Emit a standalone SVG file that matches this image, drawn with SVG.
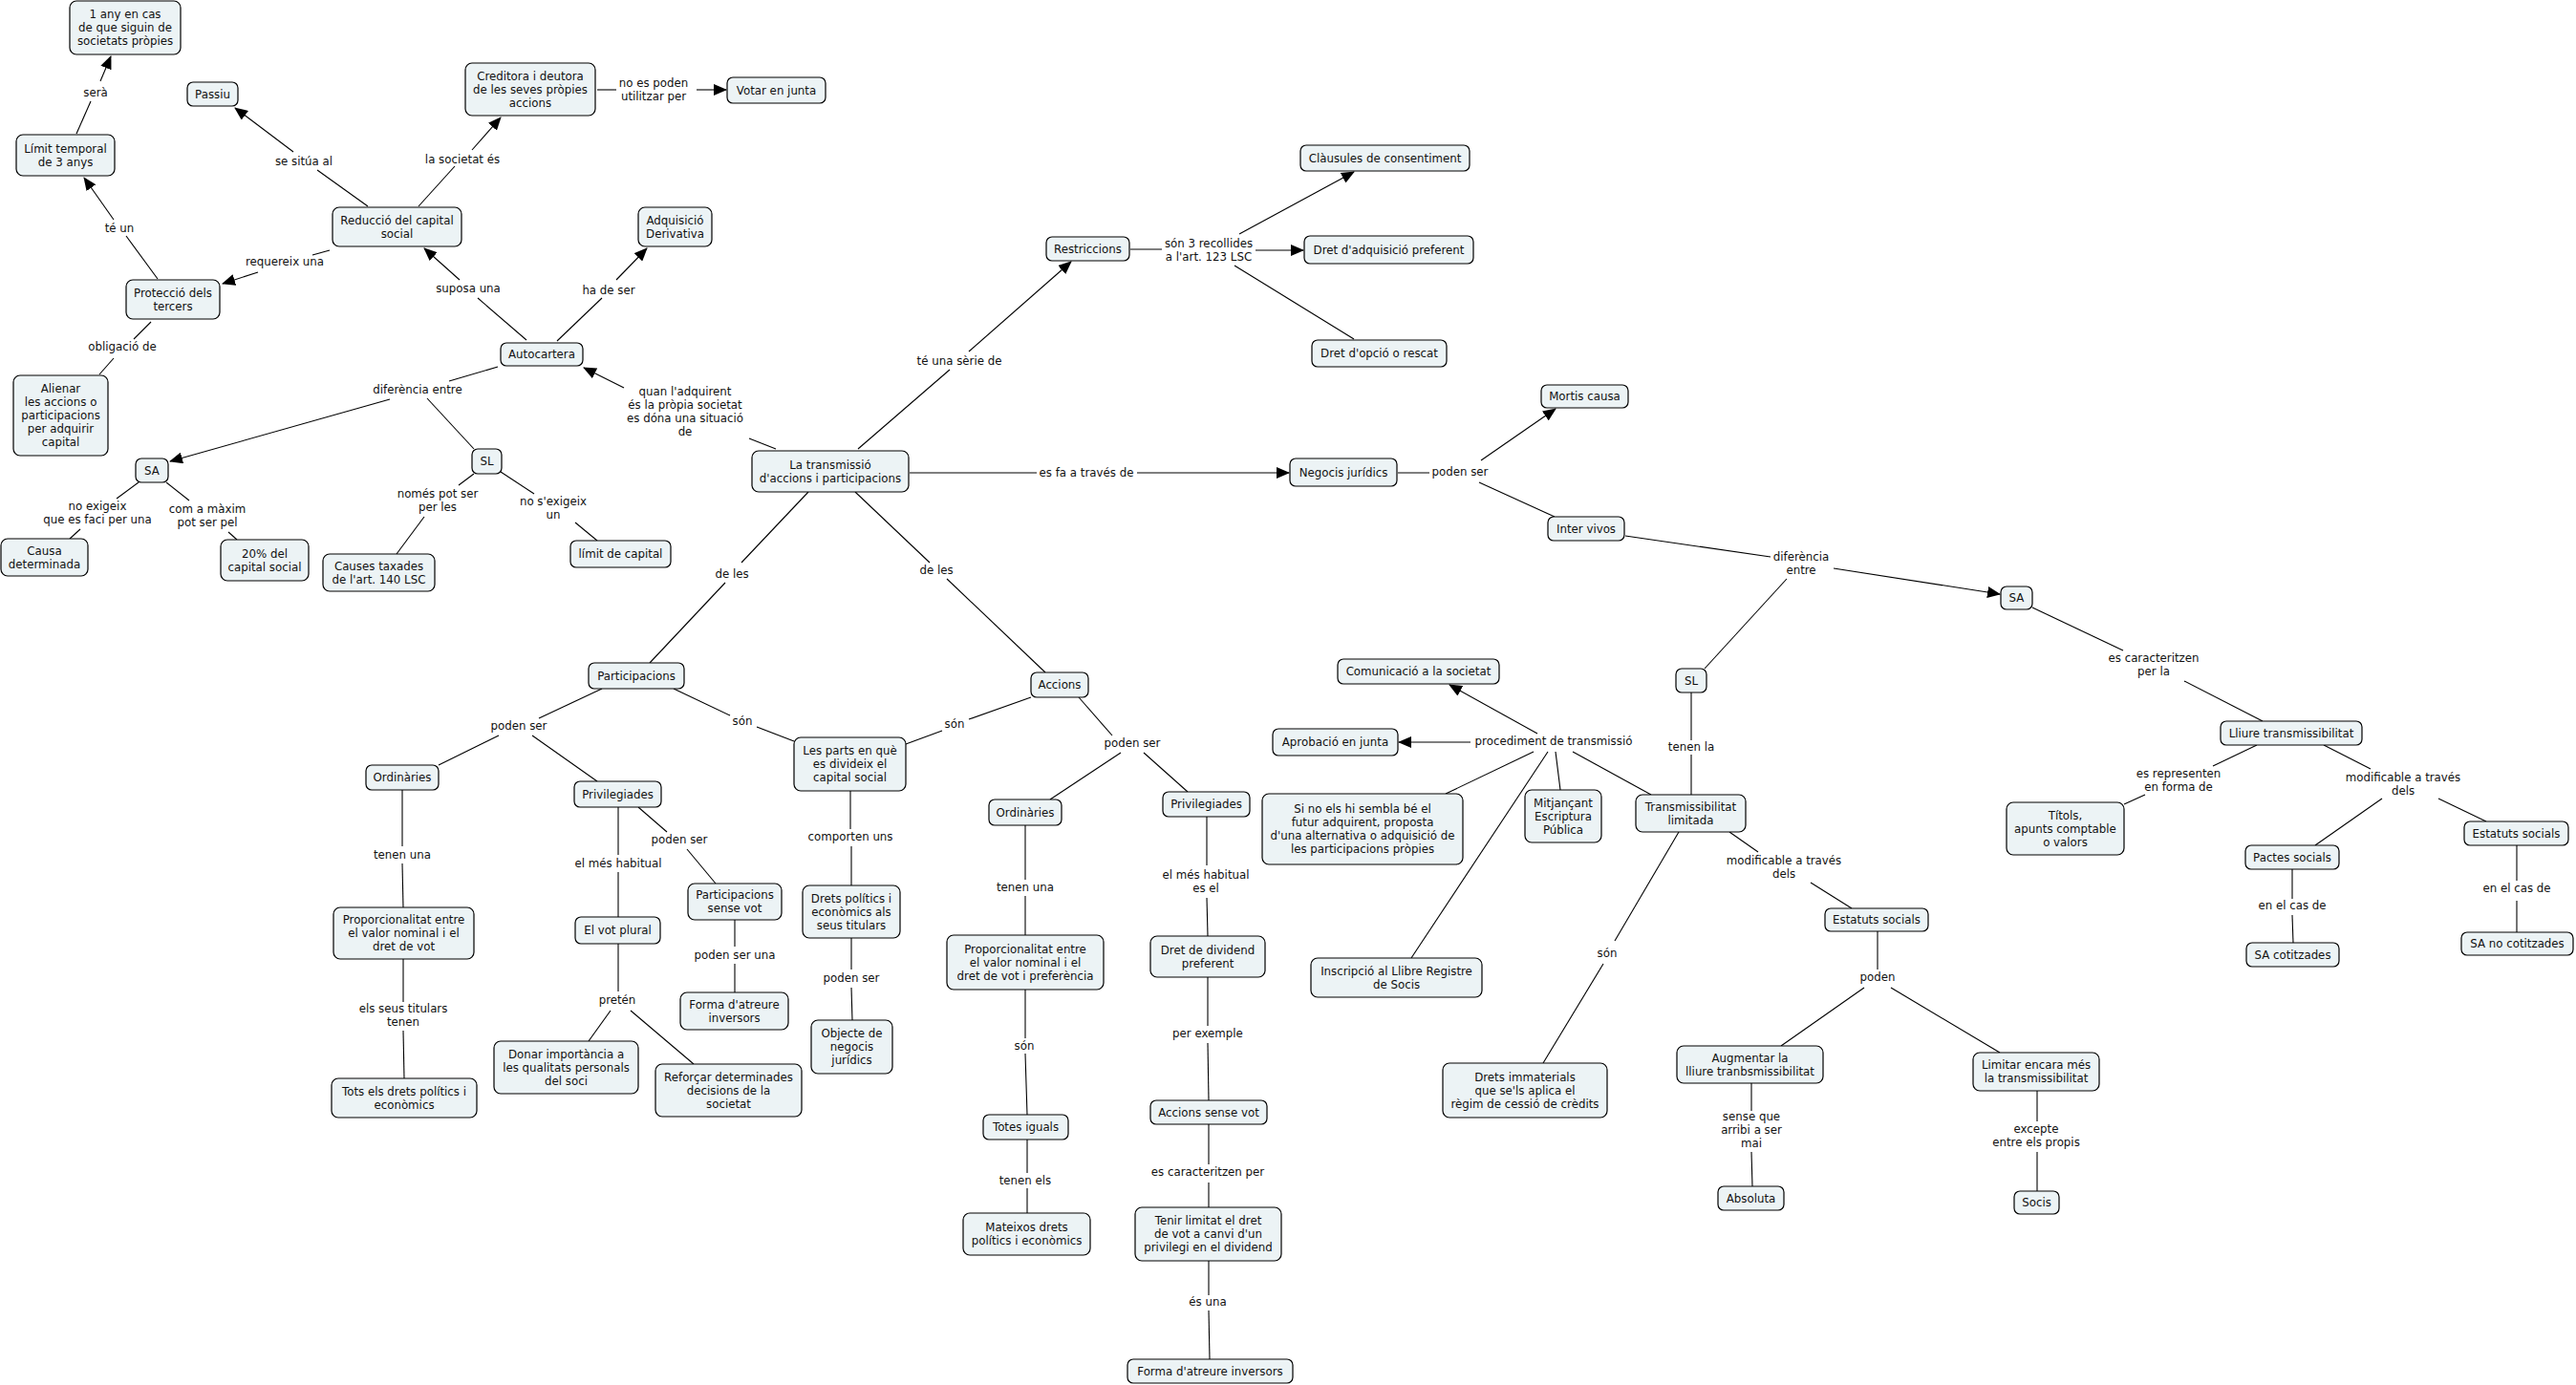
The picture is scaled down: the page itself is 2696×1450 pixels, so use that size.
<svg xmlns="http://www.w3.org/2000/svg" width="2696" height="1450" viewBox="0 0 2696 1450">
<style>
.n rect{fill:#ecf3f5;stroke:#000;stroke-width:1.2}
text{font-family:"DejaVu Sans","Liberation Sans",sans-serif;font-size:11.8px;fill:#111;text-anchor:middle}
.c line{stroke:#000;stroke-width:1.1}
.c line.a{marker-end:url(#ah)}
</style>
<defs>
<marker id="ah" viewBox="0 0 14 12" refX="13" refY="6" markerWidth="14" markerHeight="12" markerUnits="userSpaceOnUse" orient="auto"><path d="M0,0 L14,6 L0,12 z" fill="#000"/></marker>
</defs>
<rect width="2696" height="1450" fill="#fff"/>
<g id="connectors" class="c">
<line x1="80" y1="140" x2="95" y2="106"/><line class="a" x1="105" y1="85" x2="116" y2="59"/><text x="100" y="101">serà</text>
<line x1="165" y1="292" x2="132" y2="247"/><line class="a" x1="119" y1="230" x2="88" y2="186"/><text x="125" y="243">té un</text>
<line x1="345" y1="262" x2="327" y2="267"/><line class="a" x1="270" y1="285" x2="233" y2="297"/><text x="298" y="278">requereix una</text>
<line x1="385" y1="216" x2="332" y2="178"/><line class="a" x1="307" y1="159" x2="246" y2="113"/><text x="318" y="173">se sitúa al</text>
<line x1="438" y1="216" x2="476" y2="174"/><line class="a" x1="494" y1="157" x2="524" y2="123"/><text x="484" y="171">la societat és</text>
<line x1="625" y1="94" x2="645" y2="94"/><line class="a" x1="729" y1="94" x2="760" y2="94"/><text x="684" y="90.5"><tspan x="684">no es poden</tspan><tspan x="684" dy="14">utilitzar per</tspan></text>
<line x1="551" y1="356" x2="500" y2="312"/><line class="a" x1="481" y1="293" x2="444" y2="260"/><text x="490" y="306">suposa una</text>
<line x1="583" y1="357" x2="630" y2="312"/><line class="a" x1="645" y1="293" x2="677" y2="260"/><text x="637" y="308">ha de ser</text>
<line x1="158" y1="337" x2="140" y2="355"/><line x1="119" y1="375" x2="104" y2="392"/><text x="128" y="367">obligació de</text>
<line x1="521" y1="384" x2="470" y2="399"/><line class="a" x1="408" y1="418" x2="178" y2="483"/><line x1="447" y1="417" x2="496" y2="470"/><text x="437" y="412">diferència entre</text>
<line x1="812" y1="470" x2="784" y2="459"/><line class="a" x1="653" y1="406" x2="611" y2="385"/><text x="717" y="414"><tspan x="717">quan l'adquirent</tspan><tspan x="717" dy="14">és la pròpia societat</tspan><tspan x="717" dy="14">es dóna una situació</tspan><tspan x="717" dy="14">de</tspan></text>
<line x1="898" y1="470" x2="994" y2="387"/><line class="a" x1="1014" y1="368" x2="1121" y2="274"/><text x="1004" y="382">té una sèrie de</text>
<line x1="1183" y1="261" x2="1216" y2="261"/><line class="a" x1="1297" y1="245" x2="1417" y2="180"/><line class="a" x1="1314" y1="262" x2="1364" y2="262"/><line x1="1292" y1="278" x2="1417" y2="355"/><text x="1265" y="259"><tspan x="1265">són 3 recollides</tspan><tspan x="1265" dy="14">a l'art. 123 LSC</tspan></text>
<line x1="952" y1="495" x2="1085" y2="495"/><line class="a" x1="1190" y1="495" x2="1349" y2="495"/><text x="1137" y="499">es fa a través de</text>
<line x1="1463" y1="495" x2="1496" y2="495"/><line class="a" x1="1550" y1="482" x2="1628" y2="428"/><line x1="1548" y1="505" x2="1627" y2="541"/><text x="1528" y="498">poden ser</text>
<line x1="1701" y1="561" x2="1853" y2="583"/><line class="a" x1="1919" y1="595" x2="2093" y2="622"/><line x1="1870" y1="606" x2="1784" y2="700"/><text x="1885" y="587"><tspan x="1885">diferència</tspan><tspan x="1885" dy="14">entre</tspan></text>
<line x1="1770" y1="725" x2="1770" y2="775"/><line x1="1770" y1="790" x2="1770" y2="832"/><text x="1770" y="786">tenen la</text>
<line class="a" x1="1539" y1="777" x2="1464" y2="777"/><line class="a" x1="1609" y1="768" x2="1517" y2="717"/><line x1="1605" y1="787" x2="1513" y2="831"/><line x1="1620" y1="787" x2="1477" y2="1003"/><line x1="1628" y1="787" x2="1633" y2="827"/><line x1="1646" y1="787" x2="1728" y2="832"/><text x="1626" y="780">procediment de transmissió</text>
<line x1="1810" y1="871" x2="1840" y2="892"/><line x1="1895" y1="924" x2="1938" y2="951"/><text x="1867" y="905"><tspan x="1867">modificable a través</tspan><tspan x="1867" dy="14">dels</tspan></text>
<line x1="1757" y1="871" x2="1690" y2="985"/><line x1="1678" y1="1009" x2="1615" y2="1113"/><text x="1682" y="1002">són</text>
<line x1="1965" y1="975" x2="1965" y2="1015"/><line x1="1951" y1="1034" x2="1864" y2="1095"/><line x1="1979" y1="1034" x2="2093" y2="1102"/><text x="1965" y="1027">poden</text>
<line x1="1833" y1="1134" x2="1833" y2="1163"/><line x1="1833" y1="1206" x2="1834" y2="1242"/><text x="1833" y="1173"><tspan x="1833">sense que</tspan><tspan x="1833" dy="14">arribi a ser</tspan><tspan x="1833" dy="14">mai</tspan></text>
<line x1="2132" y1="1142" x2="2132" y2="1174"/><line x1="2132" y1="1206" x2="2132" y2="1247"/><text x="2131" y="1186"><tspan x="2131">excepte</tspan><tspan x="2131" dy="14">entre els propis</tspan></text>
<line x1="2127" y1="636" x2="2222" y2="681"/><line x1="2286" y1="713" x2="2368" y2="755"/><text x="2254" y="693"><tspan x="2254">es caracteritzen</tspan><tspan x="2254" dy="14">per la</tspan></text>
<line x1="2362" y1="780" x2="2316" y2="802"/><line x1="2245" y1="832" x2="2223" y2="842"/><text x="2280" y="814"><tspan x="2280">es representen</tspan><tspan x="2280" dy="14">en forma de</tspan></text>
<line x1="2432" y1="780" x2="2481" y2="805"/><line x1="2493" y1="836" x2="2423" y2="885"/><line x1="2552" y1="836" x2="2602" y2="860"/><text x="2515" y="818"><tspan x="2515">modificable a través</tspan><tspan x="2515" dy="14">dels</tspan></text>
<line x1="2399" y1="910" x2="2399" y2="941"/><line x1="2399" y1="958" x2="2400" y2="987"/><text x="2399" y="952">en el cas de</text>
<line x1="2634" y1="885" x2="2634" y2="922"/><line x1="2634" y1="943" x2="2634" y2="976"/><text x="2634" y="934">en el cas de</text>
<line x1="846" y1="515" x2="776" y2="589"/><line x1="759" y1="610" x2="680" y2="694"/><text x="766" y="605">de les</text>
<line x1="895" y1="515" x2="973" y2="589"/><line x1="991" y1="606" x2="1094" y2="704"/><text x="980" y="601">de les</text>
<line x1="705" y1="721" x2="764" y2="749"/><line x1="792" y1="761" x2="831" y2="776"/><text x="777" y="759">són</text>
<line x1="1079" y1="730" x2="1014" y2="753"/><line x1="986" y1="765" x2="948" y2="779"/><text x="999" y="762">són</text>
<line x1="890" y1="828" x2="890" y2="868"/><line x1="891" y1="886" x2="891" y2="927"/><text x="890" y="880">comporten uns</text>
<line x1="1129" y1="730" x2="1164" y2="770"/><line x1="1173" y1="788" x2="1099" y2="837"/><line x1="1197" y1="788" x2="1243" y2="829"/><text x="1185" y="782">poden ser</text>
<line x1="1073" y1="864" x2="1073" y2="921"/><line x1="1073" y1="938" x2="1073" y2="979"/><text x="1073" y="933">tenen una</text>
<line x1="1263" y1="855" x2="1263" y2="906"/><line x1="1263" y1="940" x2="1264" y2="980"/><text x="1262" y="920"><tspan x="1262">el més habitual</tspan><tspan x="1262" dy="14">es el</tspan></text>
<line x1="630" y1="721" x2="564" y2="752"/><line x1="522" y1="770" x2="459" y2="801"/><line x1="557" y1="770" x2="625" y2="818"/><text x="543" y="764">poden ser</text>
<line x1="421" y1="827" x2="421" y2="886"/><line x1="421" y1="904" x2="422" y2="950"/><text x="421" y="899">tenen una</text>
<line x1="647" y1="845" x2="647" y2="895"/><line x1="647" y1="913" x2="647" y2="960"/><text x="647" y="908">el més habitual</text>
<line x1="668" y1="845" x2="698" y2="871"/><line x1="719" y1="889" x2="749" y2="925"/><text x="711" y="883">poden ser</text>
<line x1="422" y1="1004" x2="422" y2="1049"/><line x1="422" y1="1079" x2="423" y2="1129"/><text x="422" y="1060"><tspan x="422">els seus titulars</tspan><tspan x="422" dy="14">tenen</tspan></text>
<line x1="647" y1="988" x2="647" y2="1038"/><line x1="639" y1="1058" x2="616" y2="1090"/><line x1="660" y1="1058" x2="726" y2="1114"/><text x="646" y="1051">pretén</text>
<line x1="769" y1="963" x2="769" y2="991"/><line x1="769" y1="1009" x2="769" y2="1039"/><text x="769" y="1004">poden ser una</text>
<line x1="891" y1="982" x2="891" y2="1015"/><line x1="891" y1="1034" x2="892" y2="1068"/><text x="891" y="1028">poden ser</text>
<line x1="1073" y1="1036" x2="1073" y2="1087"/><line x1="1073" y1="1103" x2="1075" y2="1167"/><text x="1072" y="1099">són</text>
<line x1="1075" y1="1193" x2="1075" y2="1228"/><line x1="1075" y1="1244" x2="1075" y2="1270"/><text x="1073" y="1240">tenen els</text>
<line x1="1264" y1="1023" x2="1264" y2="1074"/><line x1="1264" y1="1092" x2="1265" y2="1152"/><text x="1264" y="1086">per exemple</text>
<line x1="1265" y1="1177" x2="1265" y2="1219"/><line x1="1265" y1="1238" x2="1265" y2="1264"/><text x="1264" y="1231">es caracteritzen per</text>
<line x1="1265" y1="1320" x2="1265" y2="1356"/><line x1="1265" y1="1372" x2="1266" y2="1423"/><text x="1264" y="1367">és una</text>
<line x1="145" y1="505" x2="122" y2="522"/><line x1="84" y1="554" x2="73" y2="564"/><text x="102" y="534"><tspan x="102">no exigeix</tspan><tspan x="102" dy="14">que es faci per una</tspan></text>
<line x1="174" y1="505" x2="198" y2="524"/><line x1="239" y1="557" x2="248" y2="565"/><text x="217" y="537"><tspan x="217">com a màxim</tspan><tspan x="217" dy="14">pot ser pel</tspan></text>
<line x1="496" y1="496" x2="480" y2="508"/><line x1="444" y1="541" x2="415" y2="580"/><text x="458" y="521"><tspan x="458">només pot ser</tspan><tspan x="458" dy="14">per les</tspan></text>
<line x1="524" y1="494" x2="559" y2="517"/><line x1="602" y1="547" x2="625" y2="566"/><text x="579" y="529"><tspan x="579">no s'exigeix</tspan><tspan x="579" dy="14">un</tspan></text>
</g>
<g id="nodes" class="n">
<g id="n1"><rect x="73" y="1" width="116" height="56" rx="7"/><text x="131" y="19"><tspan x="131">1 any en cas</tspan><tspan x="131" dy="14">de que siguin de</tspan><tspan x="131" dy="14">societats pròpies</tspan></text></g>
<g id="n2"><rect x="196" y="86" width="53" height="25" rx="6"/><text x="222.5" y="102.5">Passiu</text></g>
<g id="n3"><rect x="487" y="66" width="136" height="55" rx="7"/><text x="555" y="83.5"><tspan x="555">Creditora i deutora</tspan><tspan x="555" dy="14">de les seves pròpies</tspan><tspan x="555" dy="14">accions</tspan></text></g>
<g id="n4"><rect x="761" y="81" width="103" height="27" rx="6"/><text x="812.5" y="98.5">Votar en junta</text></g>
<g id="n5"><rect x="17" y="141" width="103" height="43" rx="7"/><text x="68.5" y="159.5"><tspan x="68.5">Límit temporal</tspan><tspan x="68.5" dy="14">de 3 anys</tspan></text></g>
<g id="n6"><rect x="348" y="217" width="135" height="41" rx="7"/><text x="415.5" y="234.5"><tspan x="415.5">Reducció del capital</tspan><tspan x="415.5" dy="14">social</tspan></text></g>
<g id="n7"><rect x="668" y="217" width="77" height="41" rx="7"/><text x="706.5" y="234.5"><tspan x="706.5">Adquisició</tspan><tspan x="706.5" dy="14">Derivativa</tspan></text></g>
<g id="n8"><rect x="132" y="293" width="98" height="41" rx="7"/><text x="181" y="310.5"><tspan x="181">Protecció dels</tspan><tspan x="181" dy="14">tercers</tspan></text></g>
<g id="n9"><rect x="524" y="359" width="86" height="24" rx="6"/><text x="567" y="375">Autocartera</text></g>
<g id="n10"><rect x="14" y="393" width="99" height="84" rx="7"/><text x="63.5" y="411"><tspan x="63.5">Alienar</tspan><tspan x="63.5" dy="14">les accions o</tspan><tspan x="63.5" dy="14">participacions</tspan><tspan x="63.5" dy="14">per adquirir</tspan><tspan x="63.5" dy="14">capital</tspan></text></g>
<g id="n11"><rect x="142" y="480" width="34" height="25" rx="6"/><text x="159" y="496.5">SA</text></g>
<g id="n12"><rect x="494" y="470" width="31" height="26" rx="6"/><text x="509.5" y="487">SL</text></g>
<g id="n13"><rect x="1" y="564" width="91" height="39" rx="7"/><text x="46.5" y="580.5"><tspan x="46.5">Causa</tspan><tspan x="46.5" dy="14">determinada</tspan></text></g>
<g id="n14"><rect x="231" y="565" width="92" height="43" rx="7"/><text x="277" y="583.5"><tspan x="277">20% del</tspan><tspan x="277" dy="14">capital social</tspan></text></g>
<g id="n15"><rect x="338" y="580" width="117" height="39" rx="7"/><text x="396.5" y="596.5"><tspan x="396.5">Causes taxades</tspan><tspan x="396.5" dy="14">de l'art. 140 LSC</tspan></text></g>
<g id="n16"><rect x="597" y="566" width="105" height="28" rx="6"/><text x="649.5" y="584">límit de capital</text></g>
<g id="n17"><rect x="787" y="472" width="164" height="43" rx="7"/><text x="869" y="490.5"><tspan x="869">La transmissió</tspan><tspan x="869" dy="14">d'accions i participacions</tspan></text></g>
<g id="n18"><rect x="1095" y="248" width="87" height="25" rx="6"/><text x="1138.5" y="264.5">Restriccions</text></g>
<g id="n19"><rect x="1361" y="152" width="177" height="27" rx="6"/><text x="1449.5" y="169.5">Clàusules de consentiment</text></g>
<g id="n20"><rect x="1365" y="247" width="177" height="29" rx="6"/><text x="1453.5" y="265.5">Dret d'adquisició preferent</text></g>
<g id="n21"><rect x="1373" y="356" width="141" height="28" rx="6"/><text x="1443.5" y="374">Dret d'opció o rescat</text></g>
<g id="n22"><rect x="1350" y="480" width="112" height="29" rx="6"/><text x="1406" y="498.5">Negocis jurídics</text></g>
<g id="n23"><rect x="1613" y="403" width="91" height="24" rx="6"/><text x="1658.5" y="419">Mortis causa</text></g>
<g id="n24"><rect x="1620" y="541" width="80" height="25" rx="6"/><text x="1660" y="557.5">Inter vivos</text></g>
<g id="n25"><rect x="2094" y="614" width="33" height="24" rx="6"/><text x="2110.5" y="630">SA</text></g>
<g id="n26"><rect x="1754" y="700" width="32" height="25" rx="6"/><text x="1770" y="716.5">SL</text></g>
<g id="n27"><rect x="616" y="694" width="100" height="27" rx="6"/><text x="666" y="711.5">Participacions</text></g>
<g id="n28"><rect x="1079" y="704" width="60" height="26" rx="6"/><text x="1109" y="721">Accions</text></g>
<g id="n29"><rect x="831" y="772" width="117" height="56" rx="7"/><text x="889.5" y="790"><tspan x="889.5">Les parts en què</tspan><tspan x="889.5" dy="14">es divideix el</tspan><tspan x="889.5" dy="14">capital social</tspan></text></g>
<g id="n30"><rect x="383" y="801" width="76" height="26" rx="6"/><text x="421" y="818">Ordinàries</text></g>
<g id="n31"><rect x="601" y="818" width="91" height="27" rx="6"/><text x="646.5" y="835.5">Privilegiades</text></g>
<g id="n32"><rect x="1035" y="837" width="76" height="27" rx="6"/><text x="1073" y="854.5">Ordinàries</text></g>
<g id="n33"><rect x="1217" y="829" width="91" height="26" rx="6"/><text x="1262.5" y="846">Privilegiades</text></g>
<g id="n34"><rect x="840" y="927" width="102" height="55" rx="7"/><text x="891" y="944.5"><tspan x="891">Drets polítics i</tspan><tspan x="891" dy="14">econòmics als</tspan><tspan x="891" dy="14">seus titulars</tspan></text></g>
<g id="n35"><rect x="720" y="925" width="98" height="38" rx="7"/><text x="769" y="941"><tspan x="769">Participacions</tspan><tspan x="769" dy="14">sense vot</tspan></text></g>
<g id="n36"><rect x="349" y="950" width="147" height="54" rx="7"/><text x="422.5" y="967"><tspan x="422.5">Proporcionalitat entre</tspan><tspan x="422.5" dy="14">el valor nominal i el</tspan><tspan x="422.5" dy="14">dret de vot</tspan></text></g>
<g id="n37"><rect x="602" y="960" width="89" height="28" rx="6"/><text x="646.5" y="978">El vot plural</text></g>
<g id="n38"><rect x="712" y="1039" width="113" height="39" rx="7"/><text x="768.5" y="1055.5"><tspan x="768.5">Forma d'atreure</tspan><tspan x="768.5" dy="14">inversors</tspan></text></g>
<g id="n39"><rect x="849" y="1068" width="85" height="56" rx="7"/><text x="891.5" y="1086"><tspan x="891.5">Objecte de</tspan><tspan x="891.5" dy="14">negocis</tspan><tspan x="891.5" dy="14">jurídics</tspan></text></g>
<g id="n40"><rect x="347" y="1129" width="152" height="41" rx="7"/><text x="423" y="1146.5"><tspan x="423">Tots els drets polítics i</tspan><tspan x="423" dy="14">econòmics</tspan></text></g>
<g id="n41"><rect x="517" y="1090" width="151" height="55" rx="7"/><text x="592.5" y="1107.5"><tspan x="592.5">Donar importància a</tspan><tspan x="592.5" dy="14">les qualitats personals</tspan><tspan x="592.5" dy="14">del soci</tspan></text></g>
<g id="n42"><rect x="686" y="1114" width="153" height="55" rx="7"/><text x="762.5" y="1131.5"><tspan x="762.5">Reforçar determinades</tspan><tspan x="762.5" dy="14">decisions de la</tspan><tspan x="762.5" dy="14">societat</tspan></text></g>
<g id="n43"><rect x="991" y="979" width="164" height="57" rx="7"/><text x="1073" y="997.5"><tspan x="1073">Proporcionalitat entre</tspan><tspan x="1073" dy="14">el valor nominal i el</tspan><tspan x="1073" dy="14">dret de vot i preferència</tspan></text></g>
<g id="n44"><rect x="1204" y="980" width="120" height="43" rx="7"/><text x="1264" y="998.5"><tspan x="1264">Dret de dividend</tspan><tspan x="1264" dy="14">preferent</tspan></text></g>
<g id="n45"><rect x="1029" y="1167" width="89" height="26" rx="6"/><text x="1073.5" y="1184">Totes iguals</text></g>
<g id="n46"><rect x="1204" y="1152" width="122" height="25" rx="6"/><text x="1265" y="1168.5">Accions sense vot</text></g>
<g id="n47"><rect x="1008" y="1270" width="133" height="44" rx="7"/><text x="1074.5" y="1289"><tspan x="1074.5">Mateixos drets</tspan><tspan x="1074.5" dy="14">polítics i econòmics</tspan></text></g>
<g id="n48"><rect x="1188" y="1264" width="153" height="56" rx="7"/><text x="1264.5" y="1282"><tspan x="1264.5">Tenir limitat el dret</tspan><tspan x="1264.5" dy="14">de vot a canvi d'un</tspan><tspan x="1264.5" dy="14">privilegi en el dividend</tspan></text></g>
<g id="n49"><rect x="1180" y="1423" width="173" height="25" rx="6"/><text x="1266.5" y="1439.5">Forma d'atreure inversors</text></g>
<g id="n50"><rect x="1400" y="690" width="169" height="26" rx="6"/><text x="1484.5" y="707">Comunicació a la societat</text></g>
<g id="n51"><rect x="1332" y="763" width="131" height="28" rx="6"/><text x="1397.5" y="781">Aprobació en junta</text></g>
<g id="n52"><rect x="1321" y="831" width="210" height="74" rx="7"/><text x="1426" y="851"><tspan x="1426">Si no els hi sembla bé el</tspan><tspan x="1426" dy="14">futur adquirent, proposta</tspan><tspan x="1426" dy="14">d'una alternativa o adquisició de</tspan><tspan x="1426" dy="14">les participacions pròpies</tspan></text></g>
<g id="n53"><rect x="1596" y="827" width="80" height="55" rx="7"/><text x="1636" y="844.5"><tspan x="1636">Mitjançant</tspan><tspan x="1636" dy="14">Escriptura</tspan><tspan x="1636" dy="14">Pública</tspan></text></g>
<g id="n54"><rect x="1712" y="832" width="115" height="39" rx="7"/><text x="1769.5" y="848.5"><tspan x="1769.5">Transmissibilitat</tspan><tspan x="1769.5" dy="14">limitada</tspan></text></g>
<g id="n55"><rect x="1372" y="1003" width="179" height="41" rx="7"/><text x="1461.5" y="1020.5"><tspan x="1461.5">Inscripció al Llibre Registre</tspan><tspan x="1461.5" dy="14">de Socis</tspan></text></g>
<g id="n56"><rect x="1510" y="1113" width="172" height="57" rx="7"/><text x="1596" y="1131.5"><tspan x="1596">Drets immaterials</tspan><tspan x="1596" dy="14">que se'ls aplica el</tspan><tspan x="1596" dy="14">règim de cessió de crèdits</tspan></text></g>
<g id="n57"><rect x="1910" y="951" width="108" height="24" rx="6"/><text x="1964" y="967">Estatuts socials</text></g>
<g id="n58"><rect x="1755" y="1095" width="153" height="39" rx="7"/><text x="1831.5" y="1111.5"><tspan x="1831.5">Augmentar la</tspan><tspan x="1831.5" dy="14">lliure tranbsmissibilitat</tspan></text></g>
<g id="n59"><rect x="2065" y="1102" width="132" height="40" rx="7"/><text x="2131" y="1119"><tspan x="2131">Limitar encara més</tspan><tspan x="2131" dy="14">la transmissibilitat</tspan></text></g>
<g id="n60"><rect x="1798" y="1242" width="69" height="25" rx="6"/><text x="1832.5" y="1258.5">Absoluta</text></g>
<g id="n61"><rect x="2108" y="1247" width="47" height="24" rx="6"/><text x="2131.5" y="1263">Socis</text></g>
<g id="n62"><rect x="2324" y="755" width="148" height="25" rx="6"/><text x="2398" y="771.5">Lliure transmissibilitat</text></g>
<g id="n63"><rect x="2100" y="840" width="123" height="55" rx="7"/><text x="2161.5" y="857.5"><tspan x="2161.5">Títols,</tspan><tspan x="2161.5" dy="14">apunts comptable</tspan><tspan x="2161.5" dy="14">o valors</tspan></text></g>
<g id="n64"><rect x="2350" y="885" width="98" height="25" rx="6"/><text x="2399" y="901.5">Pactes socials</text></g>
<g id="n65"><rect x="2579" y="860" width="109" height="25" rx="6"/><text x="2633.5" y="876.5">Estatuts socials</text></g>
<g id="n66"><rect x="2351" y="987" width="97" height="25" rx="6"/><text x="2399.5" y="1003.5">SA cotitzades</text></g>
<g id="n67"><rect x="2576" y="976" width="117" height="24" rx="6"/><text x="2634.5" y="992">SA no cotitzades</text></g>
</g>
</svg>
